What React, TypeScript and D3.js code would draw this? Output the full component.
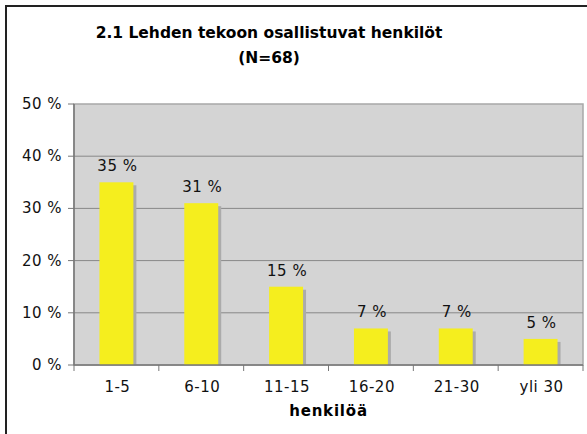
import React from 'react';
import * as d3 from 'd3';

const categories = ['1-5', '6-10', '11-15', '16-20', '21-30', 'yli 30'];
const values = [35, 31, 15, 7, 7, 5];
const yTicks = [0, 10, 20, 30, 40, 50];

const W = 587;
const H = 434;
const margin = { top: 104, right: 4, bottom: 69, left: 74 };
const font = 'DejaVu Sans, Verdana, sans-serif';

export default function App() {
    const x = d3.scaleBand()
        .domain(categories)
        .range([margin.left, W - margin.right])
        .paddingInner(0.6)
        .paddingOuter(0.3);

    const y = d3.scaleLinear()
        .domain([0, 50])
        .range([H - margin.bottom, margin.top]);

    // tick marks sit on the category boundaries
    const edges = d3.range(categories.length + 1)
        .map(i => margin.left + ((W - margin.right - margin.left) / categories.length) * i);

    return (
        <svg width={W} height={H} style={{ position: 'absolute', left: 0, top: 0 }}>
            <rect x={0} y={0} width={W} height={H} fill="#fff" />
            <rect x={6} y={6} width={W + 10} height={H + 10} fill="#fff" stroke="#222" strokeWidth={2} />
            <text x={269} y={38} textAnchor="middle" fontFamily={font} fontWeight="bold" fontSize={15.5}>
                2.1 Lehden tekoon osallistuvat henkilöt
            </text>
            <text x={269} y={63} textAnchor="middle" fontFamily={font} fontWeight="bold" fontSize={15.5}>
                (N=68)
            </text>
            <rect x={margin.left} y={margin.top} width={W - margin.right - margin.left}
                height={H - margin.bottom - margin.top} fill="#d4d4d4" stroke="#a8a8a8" strokeWidth={1.5} />
            {yTicks.filter(t => t > 0 && t < 50).map(t => (
                <line key={t} x1={margin.left} x2={W - margin.right} y1={y(t)} y2={y(t)} stroke="#888" strokeWidth={1} />
            ))}
            {values.map((v, i) => {
                const bx = x(categories[i]);
                const bw = x.bandwidth();
                return (
                    <g key={categories[i]}>
                        <rect x={bx + 3} y={y(v) + 3} width={bw} height={y(0) - y(v) - 3} fill="#ababab" />
                        <rect x={bx} y={y(v)} width={bw} height={y(0) - y(v)} fill="#f5ee1e" />
                        <text x={bx + bw / 2 + 1} y={y(v) - 11} textAnchor="middle" fontFamily={font}
                            fontSize={15} letterSpacing={0.5} fill="#111">
                            {v} %
                        </text>
                    </g>
                );
            })}
            <line x1={margin.left} x2={margin.left} y1={margin.top} y2={y(0)} stroke="#777" strokeWidth={1.5} />
            <line x1={margin.left} x2={W - margin.right} y1={y(0)} y2={y(0)} stroke="#777" strokeWidth={1.5} />
            {yTicks.map(t => (
                <g key={t}>
                    <line x1={margin.left - 6} x2={margin.left} y1={y(t)} y2={y(t)} stroke="#777" strokeWidth={1} />
                    <text x={62} y={y(t) + 5} textAnchor="end" fontFamily={font} fontSize={15}
                        letterSpacing={0.5} fill="#111">
                        {t} %
                    </text>
                </g>
            ))}
            {edges.map((e, i) => (
                <line key={i} x1={e} x2={e} y1={y(0)} y2={y(0) + 6} stroke="#777" strokeWidth={1} />
            ))}
            {categories.map(c => (
                <text key={c} x={x(c) + x.bandwidth() / 2 + 1} y={392} textAnchor="middle" fontFamily={font}
                    fontSize={15} letterSpacing={0.5} fill="#111">
                    {c}
                </text>
            ))}
            <text x={(margin.left + W - margin.right) / 2} y={416} textAnchor="middle" fontFamily={font}
                fontWeight="bold" fontSize={15} letterSpacing={0.8}>
                henkilöä
            </text>
        </svg>
    );
}
